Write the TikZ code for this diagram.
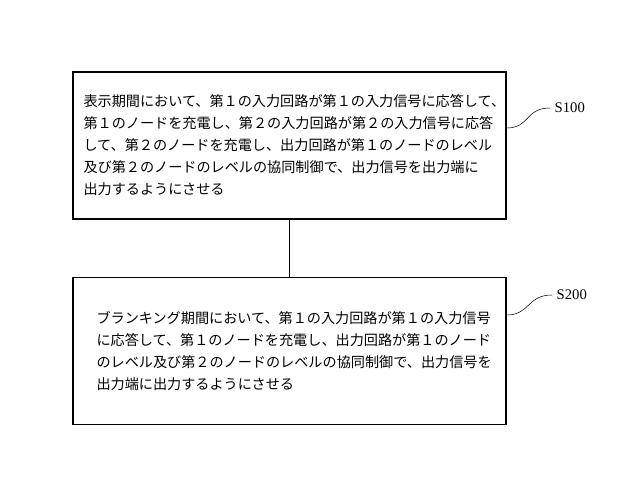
\documentclass[tikz,border=0pt]{standalone}
\usepackage{fontspec}
\newfontfamily\cjk{Noto Sans CJK JP}
\newfontfamily\lab{Liberation Serif}
\begin{document}
\begin{tikzpicture}[x=0.75pt, y=-0.75pt,
    stepbox/.style={draw, thick, minimum width=433*0.75pt, minimum height=147*0.75pt,
      align=left, font=\cjk\fontsize{10.6}{16.5}\selectfont, inner sep=0pt},
    steplabel/.style={font=\lab\fontsize{11}{13}\selectfont, anchor=west}]
    \useasboundingbox (0,0) rectangle (640,482);

    \node[stepbox, text width=412*0.75pt]  (S1)  at (289.5, 145.5)
      {表示期間において、第１の入力回路が第１の入力信号に応答して、\\第１のノードを充電し、第２の入力回路が第２の入力信号に応答\\して、第２のノードを充電し、出力回路が第１のノードのレベル\\及び第２のノードのレベルの協同制御で、出力信号を出力端に\\出力するようにさせる};
    \node[stepbox, text width=386*0.75pt]  (S2)  at (289.5, 351)
      {ブランキング期間において、第１の入力回路が第１の入力信号\\に応答して、第１のノードを充電し、出力回路が第１のノード\\のレベル及び第２のノードのレベルの協同制御で、出力信号を\\出力端に出力するようにさせる};

    \node[steplabel]  (L1)  at (550, 108)    {S100};
    \node[steplabel]  (L2)  at (552, 295)    {S200};

    \draw (S1) -- (S2);

    \draw (S1.east |- 0,128) .. controls (530,128) and (525,108) .. (L1.west);
    \draw (S2.east |- 0,315) .. controls (530,315) and (527,295) .. (L2.west);
\end{tikzpicture}
\end{document}
